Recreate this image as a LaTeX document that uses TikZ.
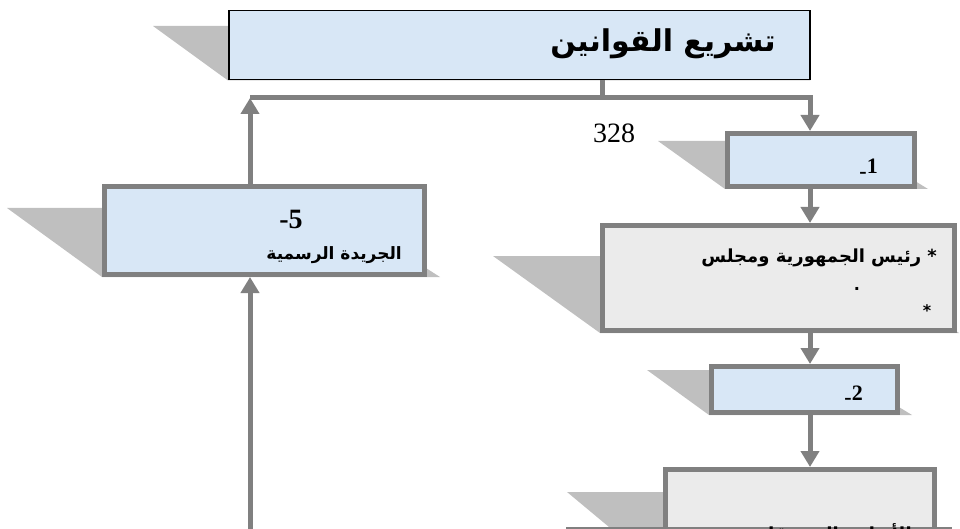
\documentclass[tikz,border=0pt]{standalone}
\usepackage{fontspec}
\setmainfont{Liberation Serif}
\newfontfamily\arabicfont[Script=Arabic]{DejaVu Sans}
\TeXXeTstate=1
\usetikzlibrary{arrows.meta,calc,backgrounds}
\definecolor{lineg}{HTML}{808080}
\definecolor{shadg}{HTML}{BFBFBF}
\definecolor{bluef}{HTML}{D8E7F6}
\definecolor{grayf}{HTML}{EBEBEB}
\tikzset{
  flowbox/.style={draw=lineg, line width=5pt, inner sep=0pt, anchor=north west},
  bluebox/.style={flowbox, fill=bluef},
  graybox/.style={flowbox, fill=grayf},
  conn/.style={draw=lineg, line width=5pt},
  arr/.style={conn, -{Triangle[width=18pt,length=16pt]}},
  artext/.style={font={\arabicfont\bfseries\fontsize{16pt}{19pt}\selectfont}, inner sep=0pt},
  numtext/.style={font={\bfseries\fontsize{22pt}{24pt}\selectfont}, inner sep=0pt},
}
\newcommand\boxshadow[4]{\fill[shadg] ($(#1.north west)+(-#2,#3)$) -- ($(#1.north east)+(-#2,#3)$) -- ($(#1.south east)+(#4,0)$) -- (#1.south west) -- cycle;}
\begin{document}
\begin{tikzpicture}[x=1pt,y=-1pt]
\useasboundingbox (0,0) rectangle (960,529);
\clip (0,0) rectangle (960,529);
% boxes
\node[draw=black, line width=1.5pt, fill=bluef, anchor=north west, inner sep=0pt,
      minimum width=581pt, minimum height=69pt] (top) at (228,10) {};
\node[bluebox, minimum width=187pt, minimum height=53pt] (b1) at (725,131) {};
\node[graybox, minimum width=352pt, minimum height=105pt] (b2) at (600,223) {};
\node[bluebox, minimum width=186pt, minimum height=46pt] (b3) at (709,364) {};
\node[graybox, minimum width=269pt, minimum height=100pt] (b4) at (663,467) {};
\node[bluebox, minimum width=320pt, minimum height=88pt] (b5) at (102,184) {};
% shadows
\begin{scope}[on background layer]
\boxshadow{top}{75}{16}{0}
\boxshadow{b1}{67}{10}{11}
\boxshadow{b2}{107}{33}{2}
\boxshadow{b3}{62}{6}{12}
\boxshadow{b4}{96}{25}{0}
\boxshadow{b5}{95}{24}{13}
\end{scope}
% connectors
\coordinate (jT) at (602,98);
\coordinate (cL) at (250,98);
\coordinate (cR) at (810,98);
\coordinate (cB) at (250,535);
\draw[conn] (top.south -| jT) -- (jT);
\draw[arr] (cL) -- (cR) -- (b1.north -| cR);
\draw[arr] (b1.south -| cR) -- (b2.north -| cR);
\draw[arr] (b2.south -| cR) -- (b3.north -| cR);
\draw[arr] (b3.south -| cR) -- (b4.north -| cR);
\draw[arr] (b5.north -| cL) -- (cL);
\draw[arr] (cB) -- (b5.south -| cB);
% bottom rule
\coordinate (rl) at (566,528);
\coordinate (rr) at (952,528);
\draw[lineg, line width=1.2pt] (rl) -- (rr);
% texts
\node[inner sep=0pt, font={\arabicfont\bfseries\fontsize{30pt}{34pt}\selectfont}] (tt) at (663,44) {\beginR تشريع القوانين\endR};
\node[inner sep=0pt, anchor=base, font={\fontsize{28pt}{30pt}\selectfont}] (n328) at (614,143) {328};
\node[numtext, anchor=base east] (t1) at (878,174) {\raisebox{-0.22em}{-}1};
\node[numtext, anchor=base east] (t2) at (863,400) {\raisebox{-0.22em}{-}2};
\node[numtext, font={\bfseries\fontsize{28pt}{30pt}\selectfont}, anchor=base] (t5) at (291,229) {-5};
\node[artext, font={\arabicfont\bfseries\fontsize{17pt}{20pt}\selectfont}, anchor=base east] (t5b) at (402,259) {\beginR الجريدة الرسمية\endR};
\node[artext, font={\arabicfont\bfseries\fontsize{18pt}{21pt}\selectfont}, anchor=base east] (t2a) at (937,262) {\beginR * رئيس الجمهورية ومجلس\endR};
\node[artext, anchor=base] (t2b) at (857,290) {.};
\node[artext, anchor=base] (t2c) at (927,316) {*};
\node[artext, font={\arabicfont\bfseries\fontsize{18pt}{21pt}\selectfont}, anchor=base east] (t4) at (912,540) {\beginR الأنظمة المستقلة\endR};
\end{tikzpicture}
\end{document}
